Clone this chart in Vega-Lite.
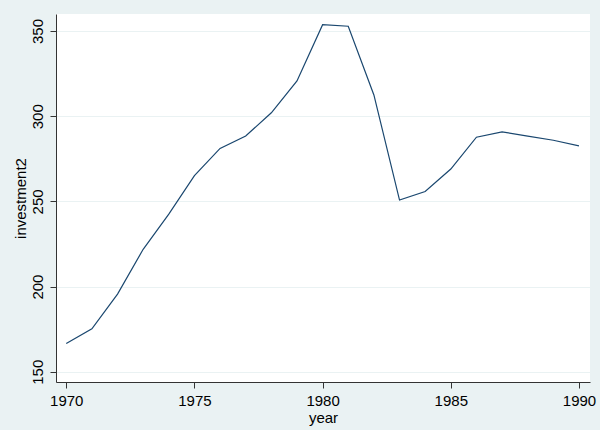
{
  "$schema": "https://vega.github.io/schema/vega-lite/v6.json",
  "width": 534,
  "height": 368,
  "autosize": {"type": "none"},
  "padding": {"left": 56, "top": 14, "right": 10, "bottom": 48},
  "background": "#eaf2f3",
  "config": {
    "font": "Liberation Sans",
    "view": {"fill": "white", "stroke": null},
    "axis": {
      "domainColor": "#333333",
      "tickColor": "#333333",
      "labelColor": "black",
      "titleColor": "black",
      "labelFontSize": 15,
      "titleFontSize": 15,
      "titleFontWeight": "normal",
      "tickSize": 6,
      "labelPadding": 5
    }
  },
  "data": {
    "values": [
      {"year": 1970, "investment2": 166.6},
      {"year": 1971, "investment2": 175.2},
      {"year": 1972, "investment2": 195.6},
      {"year": 1973, "investment2": 221.9},
      {"year": 1974, "investment2": 242.5},
      {"year": 1975, "investment2": 265.1},
      {"year": 1976, "investment2": 281.1},
      {"year": 1977, "investment2": 288.4},
      {"year": 1978, "investment2": 302.0},
      {"year": 1979, "investment2": 320.7},
      {"year": 1980, "investment2": 353.7},
      {"year": 1981, "investment2": 352.8},
      {"year": 1982, "investment2": 312.5},
      {"year": 1983, "investment2": 250.8},
      {"year": 1984, "investment2": 255.8},
      {"year": 1985, "investment2": 269.0},
      {"year": 1986, "investment2": 287.7},
      {"year": 1987, "investment2": 290.8},
      {"year": 1988, "investment2": 288.3},
      {"year": 1989, "investment2": 285.9},
      {"year": 1990, "investment2": 282.6}
    ]
  },
  "mark": {"type": "line", "color": "#1a476f", "strokeWidth": 1.2},
  "encoding": {
    "x": {
      "field": "year",
      "type": "quantitative",
      "scale": {"domain": [1969.6, 1990.43], "nice": false, "zero": false},
      "axis": {
        "values": [1970, 1975, 1980, 1985, 1990],
        "format": "d",
        "grid": false,
        "title": "year",
        "titlePadding": 2
      }
    },
    "y": {
      "field": "investment2",
      "type": "quantitative",
      "scale": {"domain": [144, 360], "nice": false, "zero": false},
      "axis": {
        "values": [150, 200, 250, 300, 350],
        "grid": true,
        "gridColor": "#eaf2f3",
        "labelAngle": -90,
        "labelAlign": "center",
        "labelBaseline": "bottom",
        "title": "investment2",
        "titlePadding": 2
      }
    }
  }
}
